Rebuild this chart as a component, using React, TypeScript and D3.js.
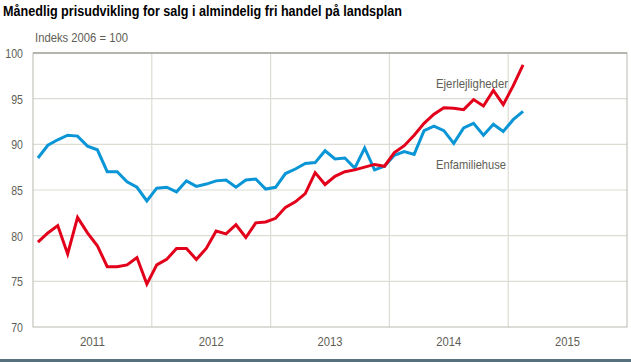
import React, { useEffect, useRef } from 'react';
import * as d3 from 'd3';

const years = ['2011', '2012', '2013', '2014', '2015'];
const yTicks = [70, 75, 80, 85, 90, 95, 100];

// Jan 2011 - Feb 2015, monthly
const enfamiliehuse = [
  88.5, 89.9, 90.5, 91.0, 90.9, 89.8, 89.4, 87.0, 87.0, 85.9, 85.3, 83.8,
  85.2, 85.3, 84.8, 86.0, 85.4, 85.65, 86.0, 86.1, 85.3, 86.1, 86.2, 85.1,
  85.3, 86.8, 87.3, 87.9, 88.0, 89.3, 88.4, 88.5, 87.4, 89.6, 87.2, 87.6,
  88.8, 89.2, 88.9, 91.5, 92.0, 91.5, 90.1, 91.8, 92.3, 91.0, 92.2, 91.4,
  92.7, 93.6,
];
const ejerlejligheder = [
  79.3, 80.3, 81.1, 78.0, 82.0, 80.3, 78.9, 76.6, 76.6, 76.8, 77.6, 74.7,
  76.8, 77.4, 78.6, 78.6, 77.4, 78.6, 80.5, 80.2, 81.2, 79.8, 81.4, 81.5,
  81.9, 83.1, 83.7, 84.6, 86.9, 85.6, 86.5, 87.0, 87.2, 87.5, 87.8, 87.6,
  89.1, 89.85, 91.0, 92.3, 93.3, 94.0, 93.95, 93.8, 94.9, 94.2, 95.9, 94.35,
  96.4, 98.7,
];

const title = 'Månedlig prisudvikling for salg i almindelig fri handel på landsplan';
const unitLabel = 'Indeks 2006 = 100';

const W = 631;
const H = 362;
const margin = { left: 33, right: 4, top: 53, bottom: 35 };

const font = '"Liberation Sans", Arial, sans-serif';
const txtGrey = '#5e5e55';
const gridCol = '#dcdcd4';
const frameCol = '#b8b8b0';

// the original uses a narrow face; squeeze glyphs to match widths
const digitW = 5.9;

export default function App() {
  const svgRef = useRef<SVGSVGElement>(null);

  useEffect(() => {
    const svg = d3.select(svgRef.current);
    svg.selectAll('*').remove();

    const x = d3.scaleLinear().domain([0, years.length * 12]).range([margin.left, W - margin.right]);
    const y = d3.scaleLinear().domain([70, 100]).range([H - margin.bottom, margin.top]);

    svg.append('rect').attr('width', W).attr('height', H).attr('fill', '#fff');

    // horizontal grid
    svg.append('g')
      .selectAll('line')
      .data(yTicks.filter(t => t !== 70 && t !== 100))
      .join('line')
      .attr('x1', x(0)).attr('x2', x(60))
      .attr('y1', d => y(d)).attr('y2', d => y(d))
      .attr('stroke', gridCol).attr('stroke-width', 1.2);

    // vertical year boundaries
    svg.append('g')
      .selectAll('line')
      .data(d3.range(1, years.length))
      .join('line')
      .attr('x1', d => x(d * 12)).attr('x2', d => x(d * 12))
      .attr('y1', y(100)).attr('y2', y(70))
      .attr('stroke', gridCol).attr('stroke-width', 1.2);

    // frame
    svg.append('rect')
      .attr('x', x(0)).attr('y', y(100))
      .attr('width', x(60) - x(0)).attr('height', y(70) - y(100))
      .attr('fill', 'none').attr('stroke', frameCol).attr('stroke-width', 1);
    svg.append('line')
      .attr('x1', x(0)).attr('x2', x(60)).attr('y1', y(100)).attr('y2', y(100))
      .attr('stroke', '#a8a8a0').attr('stroke-width', 1.5);

    // y tick labels
    svg.append('g')
      .selectAll('text')
      .data(yTicks)
      .join('text')
      .attr('x', 23).attr('y', d => y(d) + 5)
      .attr('text-anchor', 'end')
      .attr('font-family', font).attr('font-size', 13)
      .attr('textLength', d => String(d).length * digitW)
      .attr('lengthAdjust', 'spacingAndGlyphs')
      .attr('fill', txtGrey)
      .text(d => d);

    // year labels
    svg.append('g')
      .selectAll('text')
      .data(years)
      .join('text')
      .attr('x', (d, i) => x(i * 12 + 6)).attr('y', 346)
      .attr('text-anchor', 'middle')
      .attr('font-family', font).attr('font-size', 13)
      .attr('textLength', 25)
      .attr('lengthAdjust', 'spacingAndGlyphs')
      .attr('fill', txtGrey)
      .text(d => d);

    const line = d3.line<number>()
      .x((d, i) => x(i + 0.5))
      .y(d => y(d));

    svg.append('path')
      .datum(enfamiliehuse)
      .attr('d', line)
      .attr('fill', 'none').attr('stroke', '#0a96d6').attr('stroke-width', 3)
      .attr('stroke-linejoin', 'miter');

    svg.append('path')
      .datum(ejerlejligheder)
      .attr('d', line)
      .attr('fill', 'none').attr('stroke', '#e2001a').attr('stroke-width', 3)
      .attr('stroke-linejoin', 'miter');

    // series labels
    svg.append('text')
      .attr('x', 472).attr('y', 88)
      .attr('text-anchor', 'middle')
      .attr('font-family', font).attr('font-size', 13).attr('fill', txtGrey)
      .attr('textLength', 72).attr('lengthAdjust', 'spacingAndGlyphs')
      .text('Ejerlejligheder');
    svg.append('text')
      .attr('x', 471).attr('y', 169)
      .attr('text-anchor', 'middle')
      .attr('font-family', font).attr('font-size', 13).attr('fill', txtGrey)
      .attr('textLength', 70).attr('lengthAdjust', 'spacingAndGlyphs')
      .text('Enfamiliehuse');

    // unit label + title
    svg.append('text')
      .attr('x', 35).attr('y', 42)
      .attr('font-family', font).attr('font-size', 13).attr('fill', txtGrey)
      .attr('textLength', 93).attr('lengthAdjust', 'spacingAndGlyphs')
      .text(unitLabel);
    svg.append('text')
      .attr('x', 3).attr('y', 16)
      .attr('font-family', font)
      .attr('font-weight', 'bold').attr('font-size', 14).attr('fill', '#000')
      .attr('textLength', 399).attr('lengthAdjust', 'spacingAndGlyphs')
      .text(title);

    // bottom rule
    svg.append('rect')
      .attr('x', 0).attr('y', 359).attr('width', W).attr('height', 3)
      .attr('fill', '#56707e');
  }, []);

  return (
    <svg
      ref={svgRef}
      width={W}
      height={H}
      style={{ position: 'absolute', left: 0, top: 0, display: 'block' }}
    />
  );
}
